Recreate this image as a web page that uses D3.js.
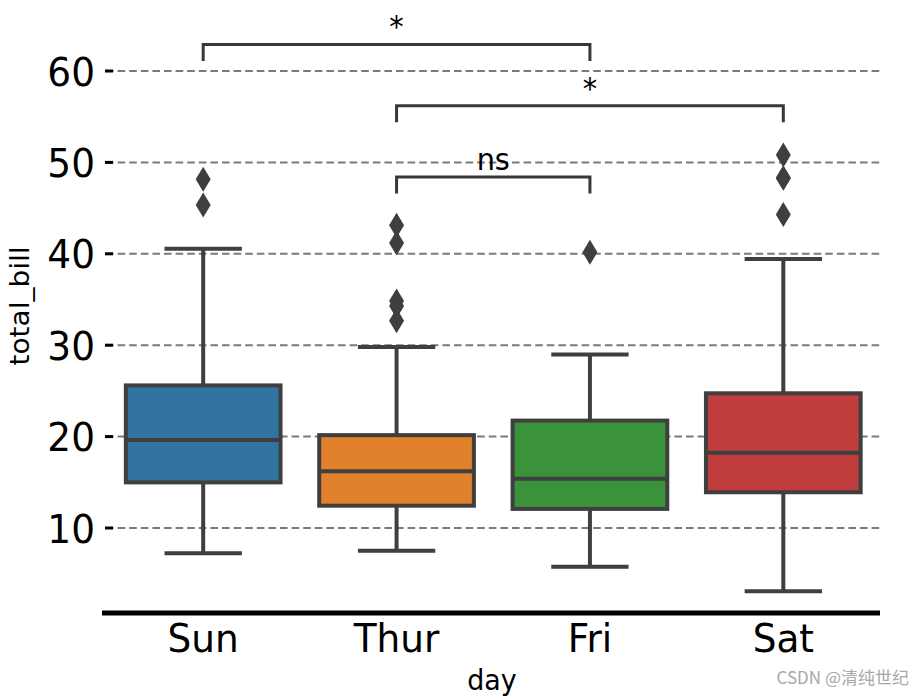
<!DOCTYPE html>
<html>
<head>
<meta charset="utf-8">
<script src="https://cdn.jsdelivr.net/npm/d3@7"></script>
<style>
  html, body { margin: 0; padding: 0; background: #fff; }
  svg { display: block; }
</style>
</head>
<body>
<svg id="chart" width="923" height="696"></svg>
<script>
// ---- data ----
const days = ["Sun", "Thur", "Fri", "Sat"];
const colors = ["#3274a1", "#e1812c", "#3a923a", "#c03d3e"];
const q1 = [14.99, 12.44, 12.09, 13.91];
const median = [19.63, 16.20, 15.38, 18.24];
const q3 = [25.60, 20.16, 21.75, 24.74];
const whiskerLow = [7.25, 7.51, 5.75, 3.07];
const whiskerHigh = [40.55, 29.80, 28.97, 39.42];
const outliers = [
  [48.17, 45.35],
  [43.11, 41.19, 34.83, 34.30, 32.68],
  [40.17],
  [50.81, 48.33, 48.27, 44.30]
];
const yTicks = [10, 20, 30, 40, 50, 60];
const pairs = [["Sun", "Fri"], ["Thur", "Sat"], ["Thur", "Fri"]];
const pairTop = [62.9, 56.2, 48.4];
const pairBottom = [61.1, 54.4, 46.6];
const pairLabels = ["*", "*", "ns"];

// ---- layout ----
const svg = d3.select("#chart");
const font = "DejaVu Sans, sans-serif";
const sx = 0.96;
const x = d3.scaleBand().domain(days).range([106.5, 880]).paddingInner(0).paddingOuter(0);
const y = d3.scaleLinear().domain([10, 60]).range([528, 71]);
const boxW = x.bandwidth() * 0.8;
const edge = "#3f3f3f";

svg.append("rect").attr("width", 923).attr("height", 696).attr("fill", "#fff");

// gridlines
svg.append("g").selectAll("line").data(yTicks).join("line")
  .attr("x1", 106).attr("x2", 880)
  .attr("y1", d => y(d)).attr("y2", d => y(d))
  .attr("stroke", "#7a7a7a").attr("stroke-width", 2)
  .attr("stroke-dasharray", "7.6,4");

// y ticks
svg.append("g").selectAll("line").data(yTicks).join("line")
  .attr("x1", 105).attr("x2", 113)
  .attr("y1", d => y(d)).attr("y2", d => y(d))
  .attr("stroke", "#000").attr("stroke-width", 3);
svg.append("g").selectAll("text").data(yTicks).join("text")
  .attr("transform", d => `translate(95,${y(d) + 14.5}) scale(${sx},1)`)
  .attr("text-anchor", "end")
  .attr("font-family", font).attr("font-size", 39)
  .attr("fill", "#000")
  .text(d => d);

// boxes
const g = svg.append("g");
days.forEach((d, i) => {
  const cx = x(d) + x.bandwidth() / 2;
  g.append("line").attr("x1", cx).attr("x2", cx)
    .attr("y1", y(q3[i])).attr("y2", y(whiskerHigh[i]))
    .attr("stroke", edge).attr("stroke-width", 4);
  g.append("line").attr("x1", cx).attr("x2", cx)
    .attr("y1", y(q1[i])).attr("y2", y(whiskerLow[i]))
    .attr("stroke", edge).attr("stroke-width", 4);
  [whiskerHigh[i], whiskerLow[i]].forEach(v => {
    g.append("line").attr("x1", cx - boxW / 4).attr("x2", cx + boxW / 4)
      .attr("y1", y(v)).attr("y2", y(v))
      .attr("stroke", edge).attr("stroke-width", 4);
  });
  g.append("rect")
    .attr("x", cx - boxW / 2).attr("width", boxW)
    .attr("y", y(q3[i])).attr("height", y(q1[i]) - y(q3[i]))
    .attr("fill", colors[i]).attr("stroke", edge).attr("stroke-width", 4);
  g.append("line").attr("x1", cx - boxW / 2).attr("x2", cx + boxW / 2)
    .attr("y1", y(median[i])).attr("y2", y(median[i]))
    .attr("stroke", edge).attr("stroke-width", 4);
  g.selectAll(null).data(outliers[i]).join("path")
    .attr("d", v => `M${cx},${y(v) - 12.5}L${cx + 7.5},${y(v)}L${cx},${y(v) + 12.5}L${cx - 7.5},${y(v)}Z`)
    .attr("fill", edge);
});

// bottom axis
svg.append("line").attr("x1", 102).attr("x2", 880)
  .attr("y1", 613).attr("y2", 613)
  .attr("stroke", "#000").attr("stroke-width", 5);
svg.append("g").selectAll("text").data(days).join("text")
  .attr("transform", d => `translate(${x(d) + x.bandwidth() / 2},652) scale(${sx},1)`)
  .attr("text-anchor", "middle")
  .attr("font-family", font).attr("font-size", 39)
  .attr("fill", "#000")
  .text(d => d);

// axis labels
svg.append("text")
  .attr("transform", `translate(492,690) scale(${sx},1)`)
  .attr("text-anchor", "middle")
  .attr("font-family", font).attr("font-size", 28)
  .text("day");
svg.append("text")
  .attr("transform", `translate(29,306) scale(0.93,1) rotate(-90)`)
  .attr("text-anchor", "middle")
  .attr("font-family", font).attr("font-size", 28)
  .text("total_bill");

// significance annotations
pairs.forEach((p, i) => {
  const x1 = x(p[0]) + x.bandwidth() / 2;
  const x2 = x(p[1]) + x.bandwidth() / 2;
  svg.append("path")
    .attr("d", `M${x1},${y(pairBottom[i])}L${x1},${y(pairTop[i])}L${x2},${y(pairTop[i])}L${x2},${y(pairBottom[i])}`)
    .attr("fill", "none").attr("stroke", "#383838").attr("stroke-width", 3);
  svg.append("text")
    .attr("transform", `translate(${(x1 + x2) / 2},${y(pairTop[i]) - 7}) scale(${sx},1)`)
    .attr("text-anchor", "middle")
    .attr("font-family", font).attr("font-size", 30)
    .attr("fill", "#000")
    .text(pairLabels[i]);
});

// watermark
svg.append("text")
  .attr("x", 909).attr("y", 684)
  .attr("text-anchor", "end")
  .attr("font-family", "Noto Sans CJK SC, sans-serif").attr("font-size", 17)
  .attr("fill", "#a8a8a8")
  .text("CSDN @清纯世纪");
</script>
</body>
</html>
